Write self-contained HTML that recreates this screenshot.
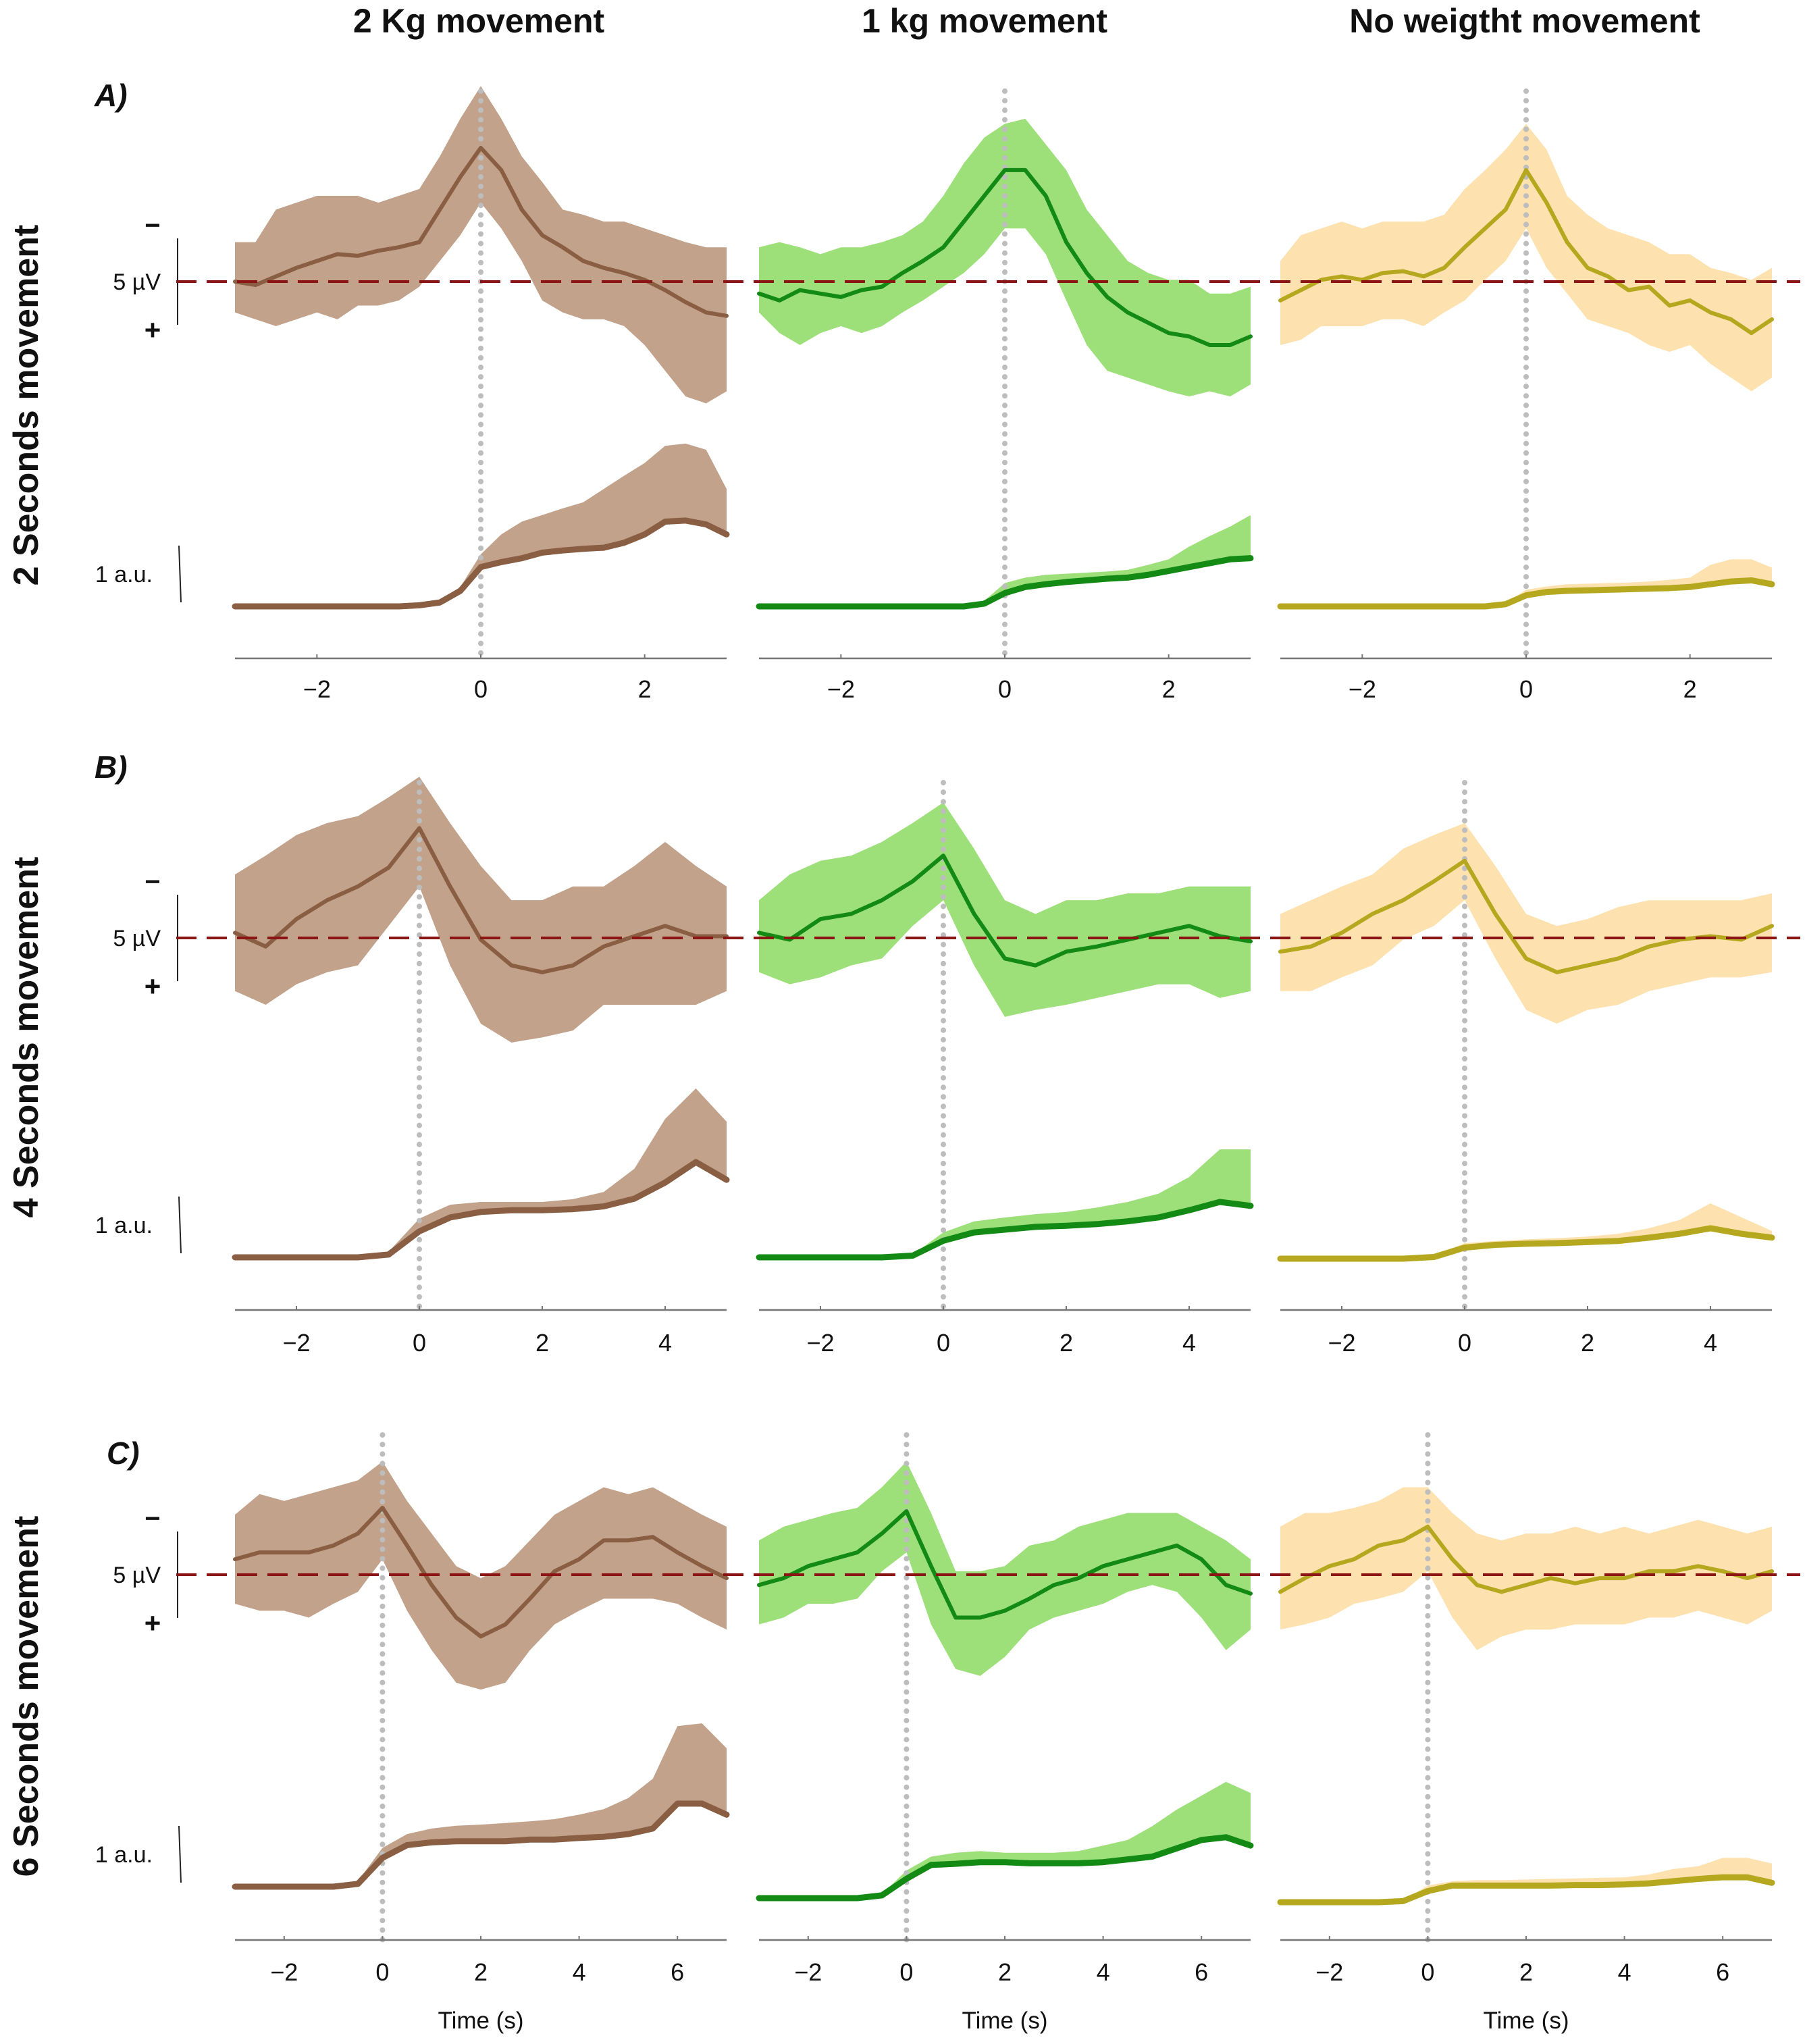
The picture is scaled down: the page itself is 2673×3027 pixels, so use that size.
<!DOCTYPE html>
<html><head><meta charset="utf-8"><style>
html,body{margin:0;padding:0;background:#fff}
svg{display:block}
text{font-family:"Liberation Sans",Arial,sans-serif}
</style></head><body>
<svg id="fig" width="2673" height="3027" viewBox="0 0 2673 3027" xmlns="http://www.w3.org/2000/svg"></svg>
<script>
// ---------- DATA ----------
const tA = [-3,-2.75,-2.5,-2.25,-2,-1.75,-1.5,-1.25,-1,-0.75,-0.5,-0.25,0,0.25,0.5,0.75,1,1.25,1.5,1.75,2,2.25,2.5,2.75,3];
const tB = [-3,-2.5,-2,-1.5,-1,-0.5,0,0.5,1,1.5,2,2.5,3,3.5,4,4.5,5];
const tC = [-3,-2.5,-2,-1.5,-1,-0.5,0,0.5,1,1.5,2,2.5,3,3.5,4,4.5,5,5.5,6,6.5,7];
const xTicksA = [-2,0,2];
const xTicksB = [-2,0,2,4];
const xTicksC = [-2,0,2,4,6];
const colTitles = ["2 Kg movement","1 kg movement","No weigtht movement"];
const rowTitles = ["2 Seconds movement","4 Seconds movement","6 Seconds movement"];
const rowLetters = ["A)","B)","C)"];

// EEG (µV, negative-up), row A
const eegMeanA1 = [0,-0.2,0.3,0.8,1.2,1.6,1.5,1.8,2.0,2.3,4.2,6.1,7.8,6.5,4.2,2.7,2.0,1.2,0.8,0.5,0.1,-0.5,-1.2,-1.8,-2.0];
const eegUpA1 = [2.3,2.3,4.2,4.6,5.0,5.0,5.0,4.6,5.0,5.4,7.3,9.5,11.4,9.5,7.3,5.8,4.2,3.9,3.5,3.5,3.1,2.7,2.3,2.0,2.0];
const eegLoA1 = [-1.8,-2.2,-2.6,-2.2,-1.8,-2.2,-1.4,-1.4,-1.1,-0.3,1.2,2.7,4.6,3.1,1.2,-1.1,-1.8,-2.2,-2.2,-2.6,-3.7,-5.2,-6.7,-7.1,-6.4];
const eegMeanA2 = [-0.7,-1.1,-0.5,-0.7,-0.9,-0.5,-0.3,0.5,1.2,2.0,3.5,5.0,6.5,6.5,5.0,2.3,0.5,-0.9,-1.8,-2.4,-3.0,-3.2,-3.7,-3.7,-3.2];
const eegUpA2 = [2.0,2.3,2.0,1.6,2.0,2.0,2.3,2.7,3.5,5.0,6.9,8.4,9.2,9.5,8.0,6.5,4.2,2.7,1.2,0.5,0.1,0.1,-0.7,-0.7,-0.3];
const eegLoA2 = [-1.8,-3.0,-3.7,-3.0,-2.6,-3.0,-2.6,-1.8,-1.1,-0.3,0.5,1.6,3.1,3.1,1.6,-1.1,-3.7,-5.2,-5.6,-6.0,-6.4,-6.7,-6.4,-6.7,-6.0];
const eegMeanA3 = [-1.1,-0.5,0.1,0.3,0.1,0.5,0.6,0.3,0.8,2.0,3.1,4.2,6.5,4.6,2.3,0.8,0.3,-0.5,-0.3,-1.4,-1.1,-1.8,-2.2,-3.0,-2.2];
const eegUpA3 = [1.2,2.7,3.1,3.5,3.1,3.5,3.5,3.5,3.9,5.4,6.5,7.7,9.2,7.7,5.0,3.9,3.1,2.7,2.3,1.6,1.6,0.8,0.5,0.1,0.8];
const eegLoA3 = [-3.7,-3.4,-2.6,-2.6,-2.6,-2.2,-2.2,-2.6,-1.8,-1.1,0.1,1.2,3.1,0.8,-0.7,-2.2,-2.6,-3.0,-3.7,-4.1,-3.7,-4.8,-5.6,-6.4,-5.6];
// EMG (a.u.), row A
const emgMeanA1 = [0,0,0,0,0,0,0,0,0,0.02,0.07,0.28,0.71,0.8,0.87,0.97,1.01,1.04,1.06,1.15,1.3,1.53,1.55,1.48,1.3];
const emgUpA1 = [0,0,0,0,0,0,0,0,0,0.02,0.12,0.35,0.94,1.3,1.53,1.65,1.77,1.88,2.12,2.36,2.59,2.9,2.94,2.83,2.12];
const emgMeanA2 = [0,0,0,0,0,0,0,0,0,0,0,0.05,0.24,0.35,0.4,0.44,0.47,0.5,0.52,0.57,0.64,0.71,0.78,0.85,0.87];
const emgUpA2 = [0,0,0,0,0,0,0,0,0,0,0,0.1,0.42,0.52,0.57,0.59,0.61,0.63,0.66,0.75,0.85,1.08,1.27,1.44,1.65];
const emgMeanA3 = [0,0,0,0,0,0,0,0,0,0,0,0.04,0.2,0.26,0.28,0.29,0.3,0.31,0.32,0.33,0.35,0.4,0.45,0.47,0.4];
const emgUpA3 = [0,0,0,0,0,0,0,0,0,0,0,0.06,0.3,0.36,0.4,0.41,0.42,0.43,0.45,0.48,0.52,0.75,0.85,0.85,0.7];

// row B
const eegMeanB1 = [0.3,-0.5,1.1,2.2,3.0,4.1,6.4,3.0,-0.1,-1.6,-2.0,-1.6,-0.5,0.1,0.7,0.1,0.1];
const eegUpB1 = [3.7,4.8,6.0,6.7,7.1,8.2,9.4,6.7,4.2,2.2,2.2,3.0,3.0,4.2,5.6,4.2,3.0];
const eegLoB1 = [-3.1,-3.9,-2.7,-2.0,-1.6,0.7,3.0,-1.6,-5.0,-6.1,-5.8,-5.4,-3.9,-3.9,-3.9,-3.9,-3.1];
const eegMeanB2 = [0.3,-0.1,1.1,1.4,2.2,3.3,4.8,1.4,-1.2,-1.6,-0.8,-0.5,-0.1,0.3,0.7,0.1,-0.2];
const eegUpB2 = [2.2,3.7,4.5,4.8,5.6,6.7,7.9,5.2,2.2,1.4,2.2,2.2,2.6,2.6,3.0,3.0,3.0];
const eegLoB2 = [-2.0,-2.7,-2.3,-1.6,-1.2,0.7,2.2,-1.6,-4.6,-4.2,-3.9,-3.5,-3.1,-2.7,-2.7,-3.5,-3.1];
const eegMeanB3 = [-0.8,-0.5,0.3,1.4,2.2,3.3,4.5,1.4,-1.2,-2.0,-1.6,-1.2,-0.5,-0.1,0.1,-0.1,0.7];
const eegUpB3 = [1.4,2.2,3.0,3.7,5.2,6.0,6.7,4.2,1.4,0.7,1.1,1.8,2.2,2.2,2.2,2.2,2.6];
const eegLoB3 = [-3.1,-3.1,-2.3,-1.6,-0.1,0.7,2.2,-1.2,-4.2,-5.0,-4.2,-3.9,-3.1,-2.7,-2.3,-2.3,-2.0];
const emgMeanB1 = [0,0,0,0,0,0.05,0.47,0.72,0.82,0.85,0.85,0.87,0.92,1.06,1.35,1.72,1.4];
const emgUpB1 = [0,0,0,0,0,0.1,0.7,0.95,1.0,1.0,1.0,1.05,1.18,1.6,2.5,3.05,2.45];
const emgMeanB2 = [0,0,0,0,0,0.03,0.3,0.45,0.5,0.55,0.57,0.6,0.65,0.72,0.85,1.0,0.93];
const emgUpB2 = [0,0,0,0,0,0.05,0.45,0.65,0.72,0.78,0.82,0.9,1.0,1.15,1.45,1.95,1.95];
const emgMeanB3 = [0,0,0,0,0,0.03,0.2,0.25,0.27,0.28,0.3,0.32,0.38,0.45,0.55,0.45,0.38];
const emgUpB3 = [0,0,0,0,0,0.05,0.28,0.32,0.35,0.37,0.4,0.45,0.55,0.7,1.0,0.75,0.5];

// row C
const eegMeanC1 = [0.9,1.3,1.3,1.3,1.7,2.4,3.9,1.7,-0.6,-2.5,-3.6,-2.9,-1.4,0.2,0.9,2.0,2.0,2.2,1.3,0.5,-0.2];
const eegUpC1 = [3.5,4.7,4.3,4.7,5.1,5.5,6.6,4.3,2.4,0.5,-0.2,0.5,2.0,3.5,4.3,5.1,4.7,5.1,4.3,3.5,2.8];
const eegLoC1 = [-1.7,-2.1,-2.1,-2.5,-1.7,-1.0,0.9,-2.1,-4.4,-6.3,-6.7,-6.3,-4.4,-2.9,-2.1,-1.4,-1.4,-1.4,-1.7,-2.5,-3.2];
const eegMeanC2 = [-0.6,-0.2,0.5,0.9,1.3,2.4,3.7,0.5,-2.5,-2.5,-2.1,-1.4,-0.6,-0.2,0.5,0.9,1.3,1.7,0.9,-0.6,-1.1];
const eegUpC2 = [2.0,2.8,3.2,3.6,3.9,5.1,6.6,3.6,0.2,0.2,0.5,1.7,2.0,2.8,3.2,3.6,3.6,3.6,2.8,2.0,0.9];
const eegLoC2 = [-2.9,-2.5,-1.7,-1.7,-1.4,0.2,1.3,-2.9,-5.5,-5.9,-4.8,-3.2,-2.5,-2.1,-1.7,-1.0,-0.6,-1.0,-2.5,-4.4,-3.2];
const eegMeanC3 = [-1.0,-0.2,0.5,0.9,1.7,2.0,2.8,0.9,-0.6,-1.0,-0.6,-0.2,-0.5,-0.2,-0.2,0.2,0.2,0.5,0.2,-0.2,0.2];
const eegUpC3 = [2.8,3.6,3.6,3.9,4.3,5.1,5.1,3.6,2.4,2.0,2.4,2.4,2.8,2.4,2.8,2.4,2.8,3.2,2.8,2.4,2.8];
const eegLoC3 = [-3.2,-2.9,-2.5,-1.7,-1.4,-1.0,0.2,-2.5,-4.4,-3.6,-3.2,-3.2,-2.9,-2.9,-2.9,-2.5,-2.5,-2.1,-2.5,-2.9,-2.1];
const emgMeanC1 = [0,0,0,0,0,0.05,0.52,0.75,0.8,0.82,0.82,0.82,0.85,0.85,0.88,0.9,0.95,1.05,1.5,1.5,1.3];
const emgUpC1 = [0,0,0,0,0,0.1,0.7,0.95,1.05,1.1,1.12,1.15,1.18,1.22,1.3,1.4,1.6,1.95,2.9,2.95,2.5];
const emgMeanC2 = [0,0,0,0,0,0.05,0.35,0.6,0.62,0.65,0.65,0.63,0.63,0.63,0.65,0.7,0.75,0.9,1.05,1.1,0.95];
const emgUpC2 = [0,0,0,0,0,0.07,0.5,0.75,0.82,0.85,0.82,0.82,0.82,0.85,0.95,1.05,1.3,1.6,1.85,2.1,1.9];
const emgMeanC3 = [0,0,0,0,0,0.02,0.2,0.3,0.3,0.3,0.3,0.3,0.31,0.31,0.32,0.34,0.38,0.42,0.45,0.45,0.35];
const emgUpC3 = [0,0,0,0,0,0.03,0.3,0.38,0.4,0.4,0.41,0.42,0.43,0.44,0.45,0.5,0.6,0.65,0.8,0.8,0.7];

// ---------- LAYOUT ----------
const NS = "http://www.w3.org/2000/svg";
const svg = document.getElementById('fig');
const colX = [348, 1124, 1896];
const panelW = 728;
const uvPx = 25.4, auPx = 82;
const rows = [
  {t:tA, tmax:3, ticks:xTicksA, zero:417, axis:975, tickY:1020, dotTop:135, emgBase:[898,898,898], lblY:600, letterX:140, letterY:141,
   eeg:[[eegMeanA1,eegUpA1,eegLoA1],[eegMeanA2,eegUpA2,eegLoA2],[eegMeanA3,eegUpA3,eegLoA3]],
   emg:[[emgMeanA1,emgUpA1],[emgMeanA2,emgUpA2],[emgMeanA3,emgUpA3]]},
  {t:tB, tmax:5, ticks:xTicksB, zero:1389, axis:1940, tickY:1988, dotTop:1159, emgBase:[1862,1862,1864], lblY:1536, letterX:140, letterY:1136,
   eeg:[[eegMeanB1,eegUpB1,eegLoB1],[eegMeanB2,eegUpB2,eegLoB2],[eegMeanB3,eegUpB3,eegLoB3]],
   emg:[[emgMeanB1,emgUpB1],[emgMeanB2,emgUpB2],[emgMeanB3,emgUpB3]]},
  {t:tC, tmax:7, ticks:xTicksC, zero:2332, axis:2873, tickY:2920, dotTop:2125, emgBase:[2794,2811,2817], lblY:2512, letterX:158, letterY:2152,
   eeg:[[eegMeanC1,eegUpC1,eegLoC1],[eegMeanC2,eegUpC2,eegLoC2],[eegMeanC3,eegUpC3,eegLoC3]],
   emg:[[emgMeanC1,emgUpC1],[emgMeanC2,emgUpC2],[emgMeanC3,emgUpC3]]}
];
const bandCol = ["#c2a28b","#9de07a","#fde2b0"];
const lineCol = ["#8a5e42","#138a13","#b5a81f"];
const ckeys = ["2kg","1kg","noweight"];

function el(tag, attrs, parent){ const e=document.createElementNS(NS,tag); for(const k in attrs) e.setAttribute(k,attrs[k]); (parent||svg).appendChild(e); return e; }
function txt(s, attrs, parent){ const e=el('text',attrs,parent); e.textContent=s; return e; }

const titleX = [709,1458,2258];
colTitles.forEach((s,i)=>{
  const e = txt(s,{x:titleX[i],y:48,'font-size':50,'font-weight':'bold','text-anchor':'middle',fill:'#111'});
  
  
});

rows.forEach((r,ri)=>{
  const g = el('g',{});
  
  
  const rl = txt(rowTitles[ri],{x:0,y:0,'font-size':52,'font-weight':'bold','text-anchor':'middle',fill:'#111',transform:`translate(56,${r.lblY}) rotate(-90)`},g);
  
  
  const lt = txt(rowLetters[ri],{x:r.letterX,y:r.letterY+16,'font-size':46,'font-weight':'bold','font-style':'italic',fill:'#111'},g);
  
  
  const sb = el('g',{},g);
  
  
  el('line',{x1:263,x2:263,y1:r.zero-64,y2:r.zero+64,stroke:'#222','stroke-width':2},sb);
  txt('−',{x:226,y:r.zero-70,'font-size':40,'font-weight':'bold','text-anchor':'middle',fill:'#111'},sb);
  txt('+',{x:226,y:r.zero+86,'font-size':42,'font-weight':'bold','text-anchor':'middle',fill:'#111'},sb);
  txt('5 µV',{x:238,y:r.zero+12,'font-size':34,'text-anchor':'end',fill:'#111'},sb);
  const b0 = r.emgBase[0];
  const eb = el('g',{},g);
  
  
  el('line',{x1:265,x2:268,y1:b0-90,y2:b0-6,stroke:'#222','stroke-width':2},eb);
  txt('1 a.u.',{x:226,y:b0-36,'font-size':34,'text-anchor':'end',fill:'#111'},eb);

  for(let c=0;c<3;c++){
    const x0 = colX[c];
    const sx = t => x0 + (t+3)/(r.tmax+3)*panelW;
    const syE = v => r.zero - v*uvPx;
    const base = r.emgBase[c];
    const syM = v => base - v*auPx;
    const p = el('g',{},g);
    
    
    const [m,up,lo] = r.eeg[c];
    let pts = r.t.map((t,i)=>sx(t)+','+syE(up[i]));
    pts = pts.concat(r.t.map((t,i)=>sx(t)+','+syE(lo[i])).reverse());
    const band = el('polygon',{points:pts.join(' '),fill:bandCol[c],stroke:'none'},p);
    
    
    const [em,eu] = r.emg[c];
    let pe = r.t.map((t,i)=>sx(t)+','+syM(eu[i]));
    pe = pe.concat(r.t.map((t,i)=>sx(t)+','+syM(em[i])).reverse());
    const eband = el('polygon',{points:pe.join(' '),fill:bandCol[c],stroke:'none'},p);
    
    
    const zl = el('line',{x1:sx(0),x2:sx(0),y1:r.dotTop,y2:r.axis,stroke:'#bdbdbd','stroke-width':8,'stroke-dasharray':'0.1 14','stroke-linecap':'round'},p);
    
    
    const ml = el('polyline',{points:r.t.map((t,i)=>sx(t)+','+syE(m[i])).join(' '),fill:'none',stroke:lineCol[c],'stroke-width':6,'stroke-linejoin':'round','stroke-linecap':'round'},p);
    
    
    const mm = el('polyline',{points:r.t.map((t,i)=>sx(t)+','+syM(em[i])).join(' '),fill:'none',stroke:lineCol[c],'stroke-width':9,'stroke-linejoin':'round','stroke-linecap':'round'},p);
    
    
    const ax = el('g',{},p);
    
    
    el('line',{x1:x0,x2:x0+panelW,y1:r.axis,y2:r.axis,stroke:'#777','stroke-width':2.5},ax);
    r.ticks.forEach(tk=>{
      el('line',{x1:sx(tk),x2:sx(tk),y1:r.axis,y2:r.axis-6,stroke:'#777','stroke-width':2},ax);
      const tl = txt(tk<0?'−'+Math.abs(tk):String(tk),{x:sx(tk),y:r.tickY+13,'font-size':36,'text-anchor':'middle',fill:'#111'},ax);
      
      
    });
    if(ri===2){
      const xt = txt('Time (s)',{x:x0+panelW/2,y:3004,'font-size':35,'text-anchor':'middle',fill:'#111'},p);
      
      
    }
  }
  const dl = el('line',{x1:261,x2:2666,y1:r.zero,y2:r.zero,stroke:'#8b1414','stroke-width':4,'stroke-dasharray':'30 15'},g);
  
  
});
</script>
</body></html>
